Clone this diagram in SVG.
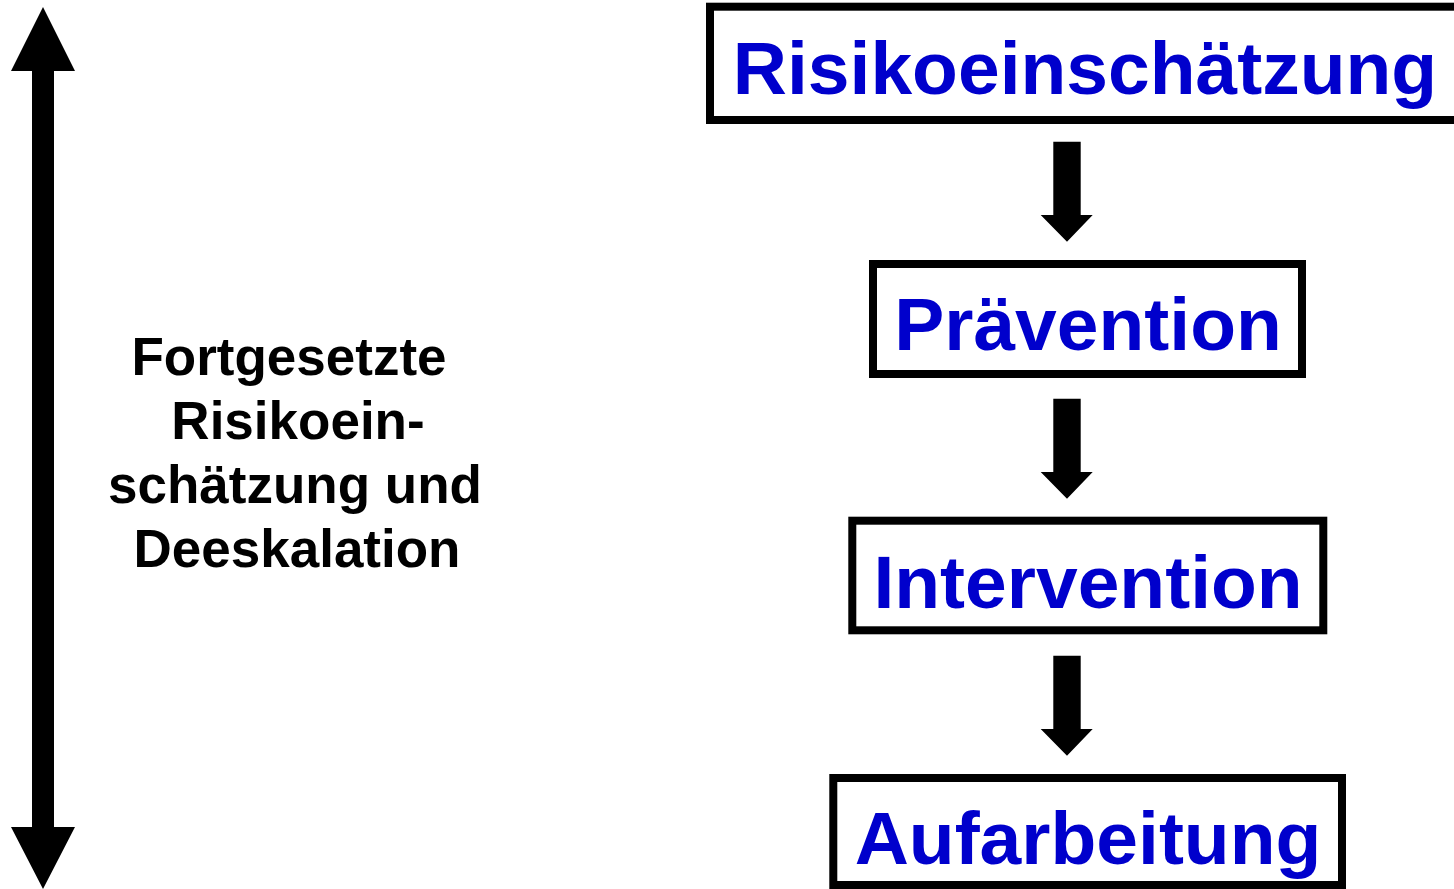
<svg xmlns="http://www.w3.org/2000/svg" width="1454" height="889" viewBox="0 0 1454 889">
  <style>
    .box { fill: #ffffff; stroke: #000000; stroke-width: 8; }
    .step { font-family: "Liberation Sans", Arial, sans-serif; font-weight: bold; font-size: 75px; fill: #0000cc; text-anchor: middle; }
    .side { font-family: "Liberation Sans", Arial, sans-serif; font-weight: bold; font-size: 53px; fill: #000000; text-anchor: middle; }
    .arrow { fill: #000000; }
  </style>
  <rect width="1454" height="889" fill="#ffffff"/>

  <!-- vertical double-headed arrow on the left -->
  <g id="cycle-arrow">
    <polygon class="arrow" points="43,7 75,71 54,71 54,827 75,827 43,889 11,827 32,827 32,71 11,71"/>
  </g>

  <g id="side-label">
    <text class="side" x="289" y="375">Fortgesetzte</text>
    <text class="side" x="298" y="439">Risikoein-</text>
    <text class="side" x="295" y="503">schätzung und</text>
    <text class="side" x="297" y="567">Deeskalation</text>
  </g>

  <!-- process steps -->
  <g id="risikoeinschaetzung">
    <rect class="box" x="710" y="6.7" width="755" height="113.3"/>
    <text class="step" x="1085" y="94">Risikoeinschätzung</text>
  </g>
  <g id="praevention">
    <rect class="box" x="873" y="264" width="429" height="110"/>
    <text class="step" x="1088" y="350">Prävention</text>
  </g>
  <g id="intervention">
    <rect class="box" x="852.3" y="520.7" width="471" height="109.6"/>
    <text class="step" x="1088" y="608">Intervention</text>
  </g>
  <g id="aufarbeitung">
    <rect class="box" x="833.3" y="778" width="508.7" height="107"/>
    <text class="step" x="1088" y="864">Aufarbeitung</text>
  </g>

  <!-- connectors between the steps -->
  <g id="connectors">
    <polygon class="arrow" points="1053.3,141.7 1080.7,141.7 1080.7,215 1092.7,215 1067,241.7 1040.7,215 1053.3,215"/>
    <polygon class="arrow" points="1053.3,398.7 1080.7,398.7 1080.7,472 1092.7,472 1067,498.7 1040.7,472 1053.3,472"/>
    <polygon class="arrow" points="1053.3,655.7 1080.7,655.7 1080.7,729 1092.7,729 1067,755.7 1040.7,729 1053.3,729"/>
  </g>
</svg>
